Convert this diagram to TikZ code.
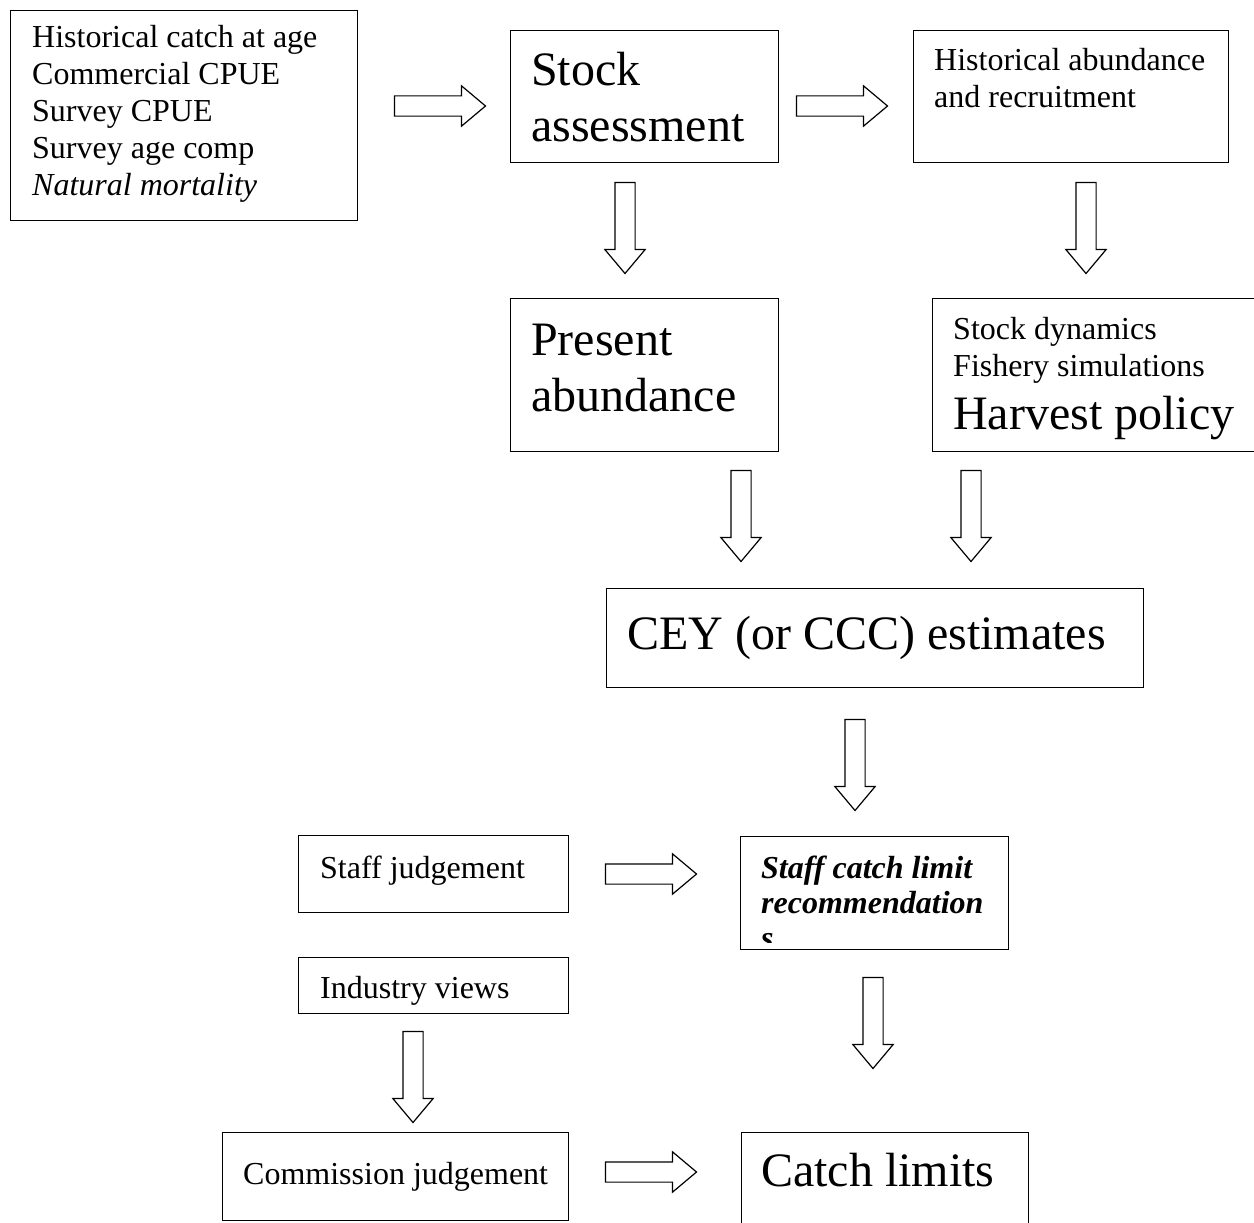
\documentclass[tikz,border=0pt]{standalone}
\usepackage{fontspec}
\setmainfont{Liberation Serif}
\usepackage{tikz}
\usetikzlibrary{shapes.arrows, positioning}

\begin{document}
\begin{tikzpicture}[
    x=1pt, y=-1pt,
    box/.style={rectangle, draw=black, line width=1.3pt, inner sep=0pt,
                anchor=north west, minimum width=#1},
    small/.style={font=\fontsize{32}{37}\selectfont, inner sep=0pt,
                  anchor=base west, align=left},
    big/.style={font=\fontsize{48}{56}\selectfont, inner sep=0pt,
                anchor=base west, align=left},
    fatarrow/.style={single arrow, draw=black, line width=1.2pt, inner sep=9.5pt,
                     minimum height=91pt, single arrow head extend=10pt,
                     single arrow tip angle=80, single arrow head indent=0pt},
    rightarrow/.style={fatarrow},
    downarrow/.style={fatarrow, rotate=-90},
]

\clip (0,0) rectangle (1254,1223);
\useasboundingbox (0,0) rectangle (1254,1223);

% Inputs (text placed at the baseline of its last line)
\node[box=347pt, minimum height=210pt] (inputs) at (10,10) {};
\node[small] (inputs_txt) at (32,195)
      {Historical catch at age\\Commercial CPUE\\Survey CPUE\\Survey age comp\\\textit{Natural mortality}};

% Stock assessment
\node[box=268pt, minimum height=132pt] (assess) at (510,30) {};
\node[big] (assess_txt) at (531,141) {Stock\\assessment};

% Historical abundance
\node[box=315pt, minimum height=132pt] (histab) at (913,30) {};
\node[small] (histab_txt) at (934,107) {Historical abundance\\and recruitment};

% Present abundance
\node[box=268pt, minimum height=153pt] (present) at (510,298) {};
\node[big] (present_txt) at (531,411) {Present\\abundance};

% Harvest policy
\node[box=340pt, minimum height=153pt] (harvest) at (932,298) {};
\node[small] (harvest_txt) at (953,376) {Stock dynamics\\Fishery simulations};
\node[big] (harvest_big) at (953,429) {Harvest policy};

% CEY estimates
\node[box=537pt, minimum height=99pt] (cey) at (606,588) {};
\node[big] (cey_txt) at (627,649) {CEY (or CCC) estimates};

% Staff judgement
\node[box=270pt, minimum height=77pt] (staffj) at (298,835) {};
\node[small] (staffj_txt) at (320,878) {Staff judgement};

% Staff recommendations (last line cut off inside the box)
\node[box=268pt, minimum height=113pt] (staffrec) at (740,836) {};
\begin{scope}
  \clip (staffrec.north west) rectangle ([yshift=8pt]staffrec.south east);
  \node[small, font=\fontsize{32}{35}\selectfont\bfseries\itshape] (staffrec_txt) at (761,948)
        {Staff catch limit\\recommendation\\s};
\end{scope}

% Industry views
\node[box=270pt, minimum height=56pt] (industry) at (298,957) {};
\node[small] (industry_txt) at (320,998) {Industry views};

% Commission judgement
\node[box=346pt, minimum height=88pt] (commission) at (222,1132) {};
\node[small] (commission_txt) at (243,1184) {Commission judgement};

% Catch limits
\node[box=287pt, minimum height=110pt] (limits) at (741,1132) {};
\node[big] (limits_txt) at (761,1186) {Catch limits};

% Block arrows
\node[rightarrow] (a_inputs) at (434,106) {};
\node[rightarrow] (a_assess) at (836,106) {};
\node[downarrow] (d_assess) at (625,222) {};
\node[downarrow] (d_histab) at (1086,222) {};
\node[downarrow] (d_present) at (741,510) {};
\node[downarrow] (d_harvest) at (971,510) {};
\node[downarrow] (d_cey) at (855,759) {};
\node[rightarrow] (a_staffj) at (645,874) {};
\node[downarrow] (d_staffrec) at (873,1017) {};
\node[downarrow] (d_industry) at (413,1071) {};
\node[rightarrow] (a_commission) at (645,1172) {};

\end{tikzpicture}
\end{document}
